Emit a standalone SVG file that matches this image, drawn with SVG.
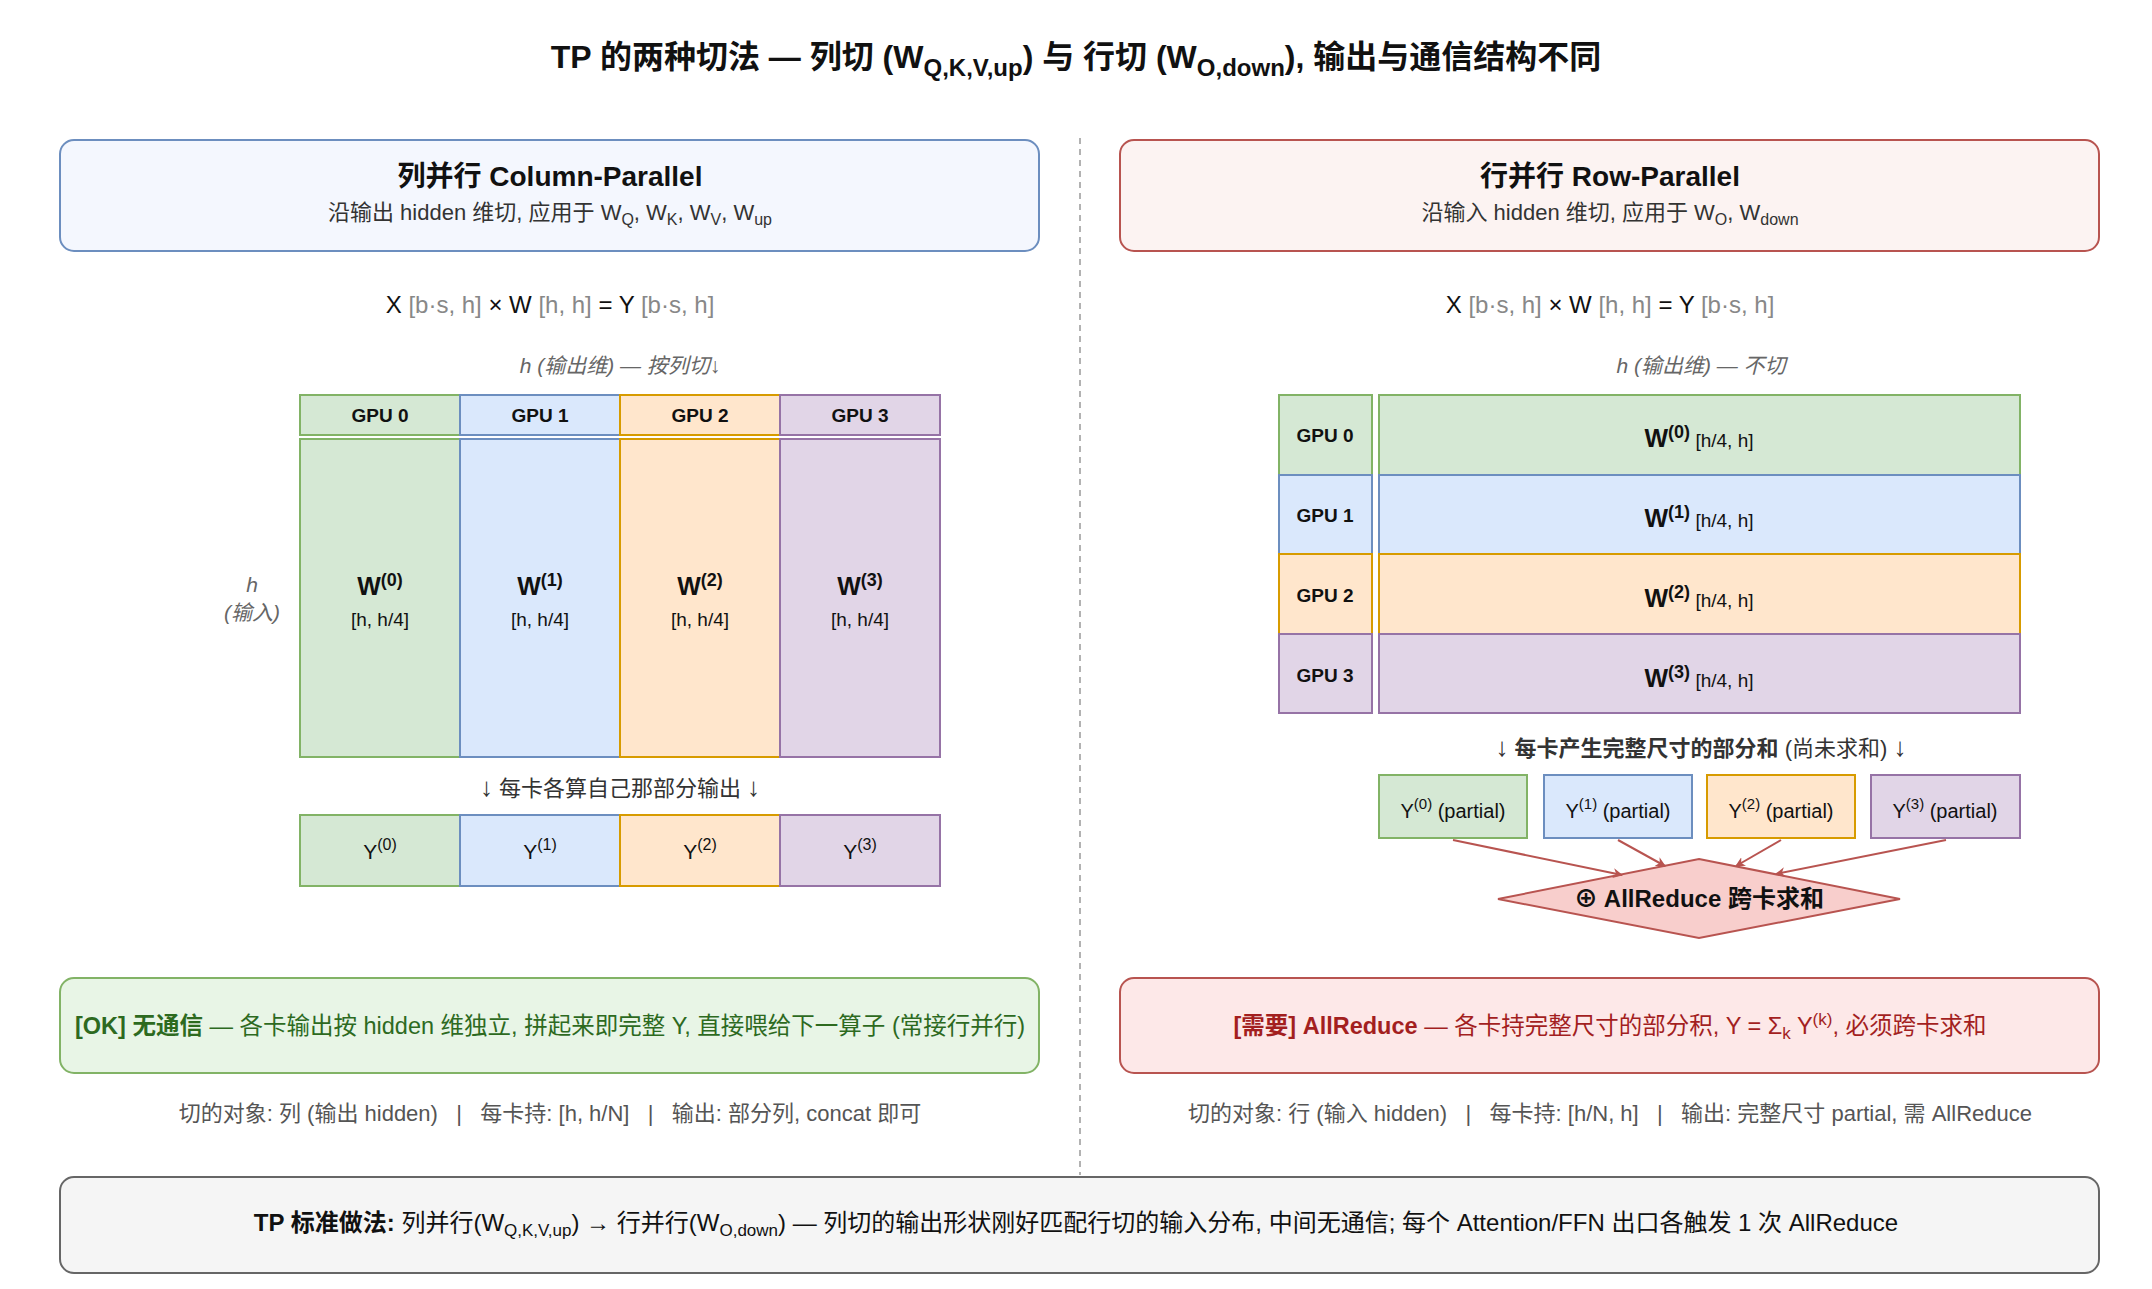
<svg xmlns="http://www.w3.org/2000/svg" width="2152" height="1289" viewBox="0 0 2152 1289">
<defs>
<marker id="ar" viewBox="0 0 10 10" refX="9" refY="5" markerWidth="10" markerHeight="10" markerUnits="userSpaceOnUse" orient="auto"><path d="M0,0 L10,5 L0,10 L3,5 Z" fill="#b85450"/></marker>
<style>
text{font-family:"Liberation Sans","Noto Sans CJK SC",sans-serif;text-anchor:middle;fill:#111;white-space:pre}
.g{fill:#d5e8d4;stroke:#82b366;stroke-width:2}
.b{fill:#dae8fc;stroke:#6c8ebf;stroke-width:2}
.o{fill:#ffe6cc;stroke:#d79b00;stroke-width:2}
.p{fill:#e1d5e7;stroke:#9673a6;stroke-width:2}
.gray{fill:#888}
.cap{font-size:21px;font-style:italic;fill:#666}
.gpu{font-size:19px;font-weight:bold}
.w{font-size:25px;font-weight:bold}
.sm{font-size:19px;font-weight:normal}
.foot{font-size:22px;fill:#555}
.eq{font-size:24px}
.conn{stroke:#b85450;stroke-width:2;fill:none}
</style>
</defs>
<text x="1076" y="68" style="font-size:32px;font-weight:bold">TP 的两种切法 — 列切 (W<tspan font-size="24" dy="8">Q,K,V,up</tspan><tspan dy="-8">) 与 行切 (W</tspan><tspan font-size="24" dy="8">O,down</tspan><tspan dy="-8">), 输出与通信结构不同</tspan></text>
<line x1="1080" y1="138" x2="1080" y2="1175" stroke="#999" stroke-width="1.5" stroke-dasharray="6,5"/>

<g id="left-header">
<rect x="60" y="140" width="979" height="111" rx="14" fill="#f4f7fe" stroke="#6c8ebf" stroke-width="2"/>
<text x="550" y="186" style="font-size:28px;font-weight:bold">列并行 Column-Parallel</text>
<text x="550" y="220" style="font-size:22px;fill:#333">沿输出 hidden 维切, 应用于 W<tspan font-size="16" dy="5">Q</tspan><tspan dy="-5">, W</tspan><tspan font-size="16" dy="5">K</tspan><tspan dy="-5">, W</tspan><tspan font-size="16" dy="5">V</tspan><tspan dy="-5">, W</tspan><tspan font-size="16" dy="5">up</tspan></text>
</g>
<text x="550" y="313" class="eq">X <tspan class="gray">[b·s, h]</tspan> × W <tspan class="gray">[h, h]</tspan> = Y <tspan class="gray">[b·s, h]</tspan></text>
<text x="620" y="373" class="cap">h (输出维) — 按列切↓</text>
<text x="252" y="592" class="cap">h</text>
<text x="252" y="620" class="cap">(输入)</text>

<g id="col-gpu0"><rect x="300" y="395" width="160" height="40" class="g"/><text x="380" y="422" class="gpu">GPU 0</text><rect x="300" y="439" width="160" height="318" class="g"/><text x="380" y="595" class="w">W<tspan font-size="18" dy="-9">(0)</tspan></text><text x="380" y="626" class="sm">[h, h/4]</text></g>
<g id="col-gpu1"><rect x="460" y="395" width="160" height="40" class="b"/><text x="540" y="422" class="gpu">GPU 1</text><rect x="460" y="439" width="160" height="318" class="b"/><text x="540" y="595" class="w">W<tspan font-size="18" dy="-9">(1)</tspan></text><text x="540" y="626" class="sm">[h, h/4]</text></g>
<g id="col-gpu2"><rect x="620" y="395" width="160" height="40" class="o"/><text x="700" y="422" class="gpu">GPU 2</text><rect x="620" y="439" width="160" height="318" class="o"/><text x="700" y="595" class="w">W<tspan font-size="18" dy="-9">(2)</tspan></text><text x="700" y="626" class="sm">[h, h/4]</text></g>
<g id="col-gpu3"><rect x="780" y="395" width="160" height="40" class="p"/><text x="860" y="422" class="gpu">GPU 3</text><rect x="780" y="439" width="160" height="318" class="p"/><text x="860" y="595" class="w">W<tspan font-size="18" dy="-9">(3)</tspan></text><text x="860" y="626" class="sm">[h, h/4]</text></g>
<text x="620" y="796" style="font-size:22px;fill:#333"><tspan font-size="26">↓</tspan> 每卡各算自己那部分输出 <tspan font-size="26">↓</tspan></text>
<g id="col-y">
<rect x="300" y="815" width="160" height="71" class="g"/><text x="380" y="859" style="font-size:21px">Y<tspan font-size="16" dy="-9">(0)</tspan></text>
<rect x="460" y="815" width="160" height="71" class="b"/><text x="540" y="859" style="font-size:21px">Y<tspan font-size="16" dy="-9">(1)</tspan></text>
<rect x="620" y="815" width="160" height="71" class="o"/><text x="700" y="859" style="font-size:21px">Y<tspan font-size="16" dy="-9">(2)</tspan></text>
<rect x="780" y="815" width="160" height="71" class="p"/><text x="860" y="859" style="font-size:21px">Y<tspan font-size="16" dy="-9">(3)</tspan></text>
</g>
<g id="left-note">
<rect x="60" y="978" width="979" height="95" rx="14" fill="#e8f5e6" stroke="#82b366" stroke-width="2"/>
<text x="550" y="1034" style="font-size:23.5px;fill:#2d6a1f"><tspan font-weight="bold">[OK] 无通信</tspan> — 各卡输出按 hidden 维独立, 拼起来即完整 Y, 直接喂给下一算子 (常接行并行)</text>
</g>
<text x="550" y="1121" class="foot">切的对象: 列 (输出 hidden)   |   每卡持: [h, h/N]   |   输出: 部分列, concat 即可</text>

<g id="right-header">
<rect x="1120" y="140" width="979" height="111" rx="14" fill="#fcf3f2" stroke="#b85450" stroke-width="2"/>
<text x="1610" y="186" style="font-size:28px;font-weight:bold">行并行 Row-Parallel</text>
<text x="1610" y="220" style="font-size:22px;fill:#333">沿输入 hidden 维切, 应用于 W<tspan font-size="16" dy="5">O</tspan><tspan dy="-5">, W</tspan><tspan font-size="16" dy="5">down</tspan></text>
</g>
<text x="1610" y="313" class="eq">X <tspan class="gray">[b·s, h]</tspan> × W <tspan class="gray">[h, h]</tspan> = Y <tspan class="gray">[b·s, h]</tspan></text>
<text x="1701" y="373" class="cap">h (输出维) — 不切</text>

<g id="row-gpu0"><rect x="1279" y="395" width="93" height="80" class="g"/><text x="1325" y="442" class="gpu">GPU 0</text><rect x="1379" y="395" width="641" height="80" class="g"/><text x="1699" y="447" class="w">W<tspan font-size="18" dy="-9">(0)</tspan><tspan class="sm" dy="9"> [h/4, h]</tspan></text></g>
<g id="row-gpu1"><rect x="1279" y="475" width="93" height="79" class="b"/><text x="1325" y="522" class="gpu">GPU 1</text><rect x="1379" y="475" width="641" height="79" class="b"/><text x="1699" y="527" class="w">W<tspan font-size="18" dy="-9">(1)</tspan><tspan class="sm" dy="9"> [h/4, h]</tspan></text></g>
<g id="row-gpu2"><rect x="1279" y="554" width="93" height="80" class="o"/><text x="1325" y="602" class="gpu">GPU 2</text><rect x="1379" y="554" width="641" height="80" class="o"/><text x="1699" y="607" class="w">W<tspan font-size="18" dy="-9">(2)</tspan><tspan class="sm" dy="9"> [h/4, h]</tspan></text></g>
<g id="row-gpu3"><rect x="1279" y="634" width="93" height="79" class="p"/><text x="1325" y="682" class="gpu">GPU 3</text><rect x="1379" y="634" width="641" height="79" class="p"/><text x="1699" y="687" class="w">W<tspan font-size="18" dy="-9">(3)</tspan><tspan class="sm" dy="9"> [h/4, h]</tspan></text></g>
<text x="1701" y="756" style="font-size:22px;fill:#333"><tspan font-size="26">↓</tspan> <tspan font-weight="bold">每卡产生完整尺寸的部分和</tspan> (尚未求和) <tspan font-size="26">↓</tspan></text>
<g id="row-partials">
<rect x="1379" y="775" width="148" height="63" class="g"/><text x="1453" y="818" style="font-size:20px">Y<tspan font-size="15" dy="-9">(0)</tspan><tspan dy="9"> (partial)</tspan></text>
<rect x="1544" y="775" width="148" height="63" class="b"/><text x="1618" y="818" style="font-size:20px">Y<tspan font-size="15" dy="-9">(1)</tspan><tspan dy="9"> (partial)</tspan></text>
<rect x="1707" y="775" width="148" height="63" class="o"/><text x="1781" y="818" style="font-size:20px">Y<tspan font-size="15" dy="-9">(2)</tspan><tspan dy="9"> (partial)</tspan></text>
<rect x="1871" y="775" width="149" height="63" class="p"/><text x="1945" y="818" style="font-size:20px">Y<tspan font-size="15" dy="-9">(3)</tspan><tspan dy="9"> (partial)</tspan></text>
</g>
<g id="allreduce">
<polygon points="1699,859 1900,899 1699,938 1498,899" fill="#f8cecc" stroke="#b85450" stroke-width="2"/>
<text x="1699" y="907" style="font-size:24px;font-weight:bold">⊕ AllReduce 跨卡求和</text>
</g>
<g id="connectors">
<line x1="1453" y1="840" x2="1622" y2="875" class="conn" marker-end="url(#ar)"/>
<line x1="1618" y1="840" x2="1665" y2="866" class="conn" marker-end="url(#ar)"/>
<line x1="1781" y1="840" x2="1736" y2="866" class="conn" marker-end="url(#ar)"/>
<line x1="1946" y1="840" x2="1776" y2="874" class="conn" marker-end="url(#ar)"/>
</g>
<g id="right-note">
<rect x="1120" y="978" width="979" height="95" rx="14" fill="#fde8e8" stroke="#b85450" stroke-width="2"/>
<text x="1610" y="1034" style="font-size:23.5px;fill:#a31f1f"><tspan font-weight="bold">[需要] AllReduce</tspan> — 各卡持完整尺寸的部分积, Y = Σ<tspan font-size="17" dy="5">k</tspan><tspan dy="-5"> Y</tspan><tspan font-size="17" dy="-9">(k)</tspan><tspan dy="9">, 必须跨卡求和</tspan></text>
</g>
<text x="1610" y="1121" class="foot">切的对象: 行 (输入 hidden)   |   每卡持: [h/N, h]   |   输出: 完整尺寸 partial, 需 AllReduce</text>

<g id="summary">
<rect x="60" y="1177" width="2039" height="96" rx="14" fill="#f5f5f5" stroke="#666" stroke-width="2"/>
<text x="1076" y="1231" style="font-size:24px"><tspan font-weight="bold">TP 标准做法:</tspan> 列并行(W<tspan font-size="17" dy="5">Q,K,V,up</tspan><tspan dy="-5">) → 行并行(W</tspan><tspan font-size="17" dy="5">O,down</tspan><tspan dy="-5">) — 列切的输出形状刚好匹配行切的输入分布, 中间无通信; 每个 Attention/FFN 出口各触发 1 次 AllReduce</tspan></text>
</g>
</svg>
